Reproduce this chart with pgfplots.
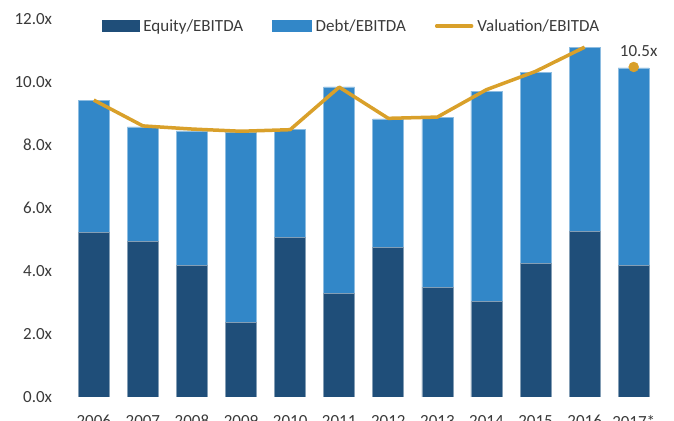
\documentclass[border=0pt]{standalone}
\usepackage{pgfplots}
\pgfplotsset{compat=1.18}
\usepackage{fontspec}
\setmainfont{Carlito}
\usetikzlibrary{calc}
\definecolor{equity}{HTML}{1F4E79}
\definecolor{debt}{HTML}{3287C8}
\definecolor{valu}{HTML}{D9A02A}
\definecolor{txt}{HTML}{3A3A3A}
\pgfplotsset{
  frame/.style={
    scale only axis,
    width=589pt, height=378pt,
    xmin=-0.5, xmax=11.5,
    ymin=0, ymax=12,
    axis line style={draw=none},
    major tick length=0pt,
  },
}
\begin{document}
\begin{tikzpicture}
% stacked bars
\begin{axis}[
  frame, name=ax,
  xtick={0,...,11},
  xticklabels={2006,2007,2008,2009,2010,2011,2012,2013,2014,2015,2016,2017*},
  ytick={0,2,...,12},
  yticklabel={\pgfmathprintnumber[fixed,fixed zerofill,precision=1]{\tick}x},
  /pgf/number format/assume math mode=true,
  tick label style={font=\fontsize{17}{20}\selectfont, text=txt, inner sep=0pt},
  yticklabel style={anchor=east, xshift=-17pt},
  xticklabel style={anchor=north, yshift=-18pt},
  ybar stacked,
  bar width=31pt,
]
\addplot[fill=equity, draw=equity!55!white, line width=0.6pt]
  coordinates {(0,5.22) (1,4.94) (2,4.18) (3,2.37) (4,5.07) (5,3.28)
               (6,4.75) (7,3.48) (8,3.02) (9,4.24) (10,5.26) (11,4.18)};
\addplot[fill=debt, draw=debt!55!white, line width=0.6pt]
  coordinates {(0,4.20) (1,3.63) (2,4.26) (3,6.02) (4,3.41) (5,6.56)
               (6,4.07) (7,5.38) (8,6.68) (9,6.07) (10,5.84) (11,6.26)};
\end{axis}
% valuation line and legend
\begin{axis}[
  frame,
  xtick=\empty, ytick=\empty,
  legend columns=3,
  legend style={
    at={(rel axis cs:0.0556,0.981)}, anchor=west,
    draw=none, fill=none, inner sep=0pt, outer sep=0pt,
    font=\fontsize{17}{20}\selectfont, text=txt,
    nodes={inner sep=0pt},
    /tikz/every odd column/.append style={column sep=4pt},
    /tikz/every even column/.append style={column sep=29pt},
  },
]
\addlegendimage{legend image code/.code={\fill[equity] (0pt,-5.5pt) rectangle (37pt,5.5pt);}}
\addlegendentry{Equity/EBITDA}
\addlegendimage{legend image code/.code={\fill[debt] (0pt,-5.5pt) rectangle (39pt,5.5pt);}}
\addlegendentry{Debt/EBITDA}
\addplot[sharp plot, valu, line width=3.5pt, line join=round,
  legend image code/.code={\draw[valu, line width=3.5pt, line cap=round] (0pt,0pt) -- (35pt,0pt);}]
  coordinates {(0,9.42) (1,8.60) (2,8.50) (3,8.43) (4,8.48) (5,9.83)
               (6,8.84) (7,8.88) (8,9.75) (9,10.33) (10,11.10)};
\addlegendentry{Valuation/EBITDA}
\addplot[only marks, mark=*, mark size=5pt, color=valu, forget plot]
  coordinates {(11,10.47)};
\node[anchor=south, font=\fontsize{17}{20}\selectfont, text=txt, inner sep=0pt]
  at (axis cs:11,10.47) [xshift=5pt, yshift=10pt] {10.5x};
\end{axis}
\pgfresetboundingbox
\path ($(ax.south west)+(-69.25pt,-23.2pt)$) rectangle ++(674pt,420pt);
\end{tikzpicture}
\end{document}
